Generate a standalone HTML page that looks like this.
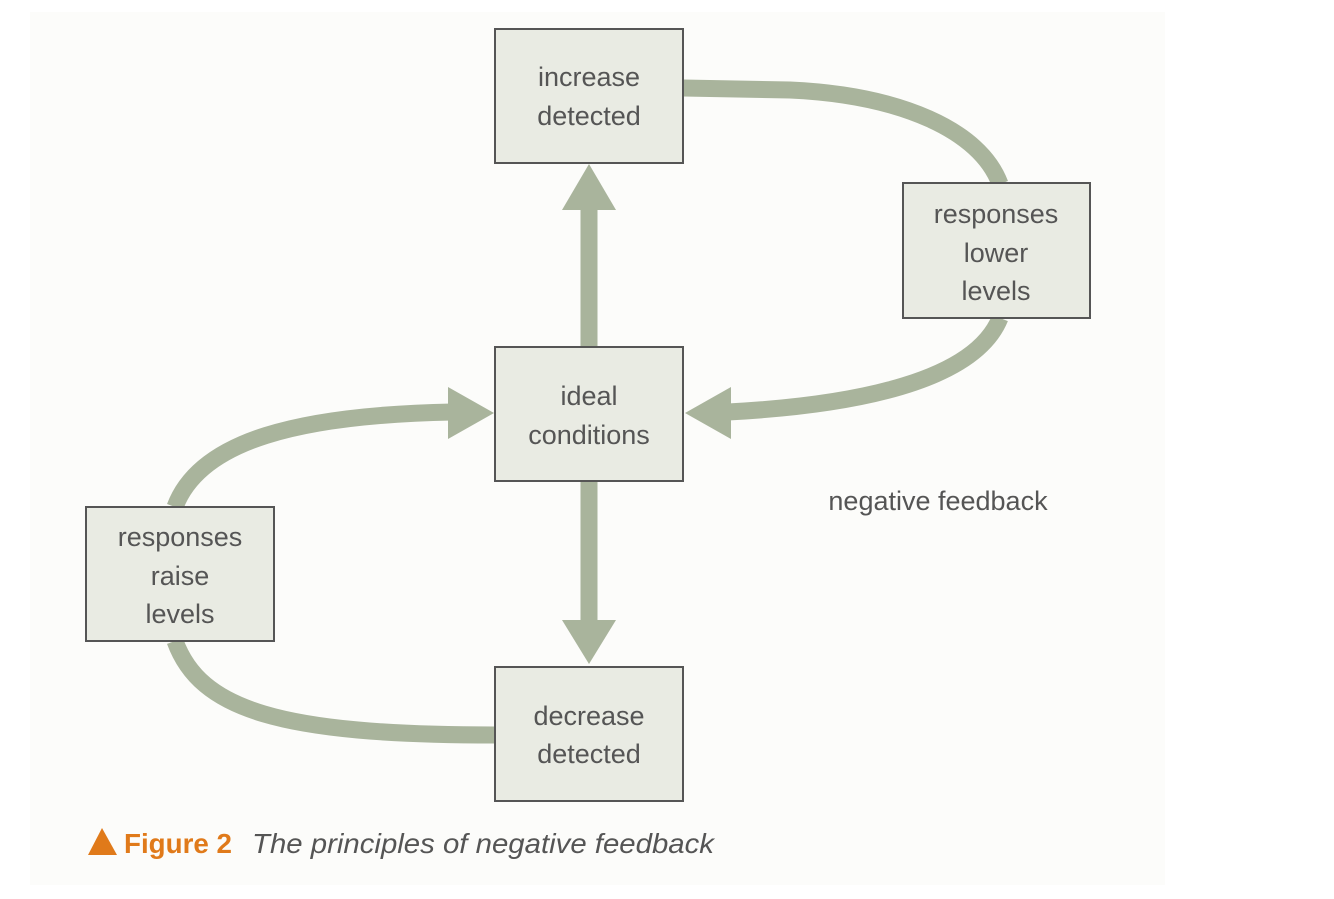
<!DOCTYPE html>
<html><head><meta charset="utf-8"><style>
body{margin:0;width:1334px;height:899px;background:#fff;overflow:hidden;font-family:"Liberation Sans",sans-serif}
</style></head><body>
<svg width="1334" height="899" xmlns="http://www.w3.org/2000/svg" style="position:absolute;left:0;top:0">
<rect x="30" y="12" width="1135" height="873" fill="#fcfcfa"/>
<g fill="none" stroke="#a9b49c" stroke-width="17">
<path d="M683 88 L790 90 C900 95 980 130 1000 184"/>
<path d="M1000 318 C975 380 860 405 728 412"/>
<path d="M175 507 C200 440 300 415 452 412"/>
<path d="M175 641 C200 710 280 735 495 735"/>
<path d="M589 347 L589 205"/>
<path d="M589 481 L589 625"/>
</g>
<g fill="#a9b49c">
<polygon points="589,164 562,210 616,210"/>
<polygon points="589,664 562,620 616,620"/>
<polygon points="685,413 731,387 731,439"/>
<polygon points="494,413 448,387 448,439"/>
</g>
<g fill="#e9ebe3" stroke="#555" stroke-width="2">
<rect x="495" y="29" width="188" height="134"/>
<rect x="903" y="183" width="187" height="135"/>
<rect x="495" y="347" width="188" height="134"/>
<rect x="86" y="507" width="188" height="134"/>
<rect x="495" y="667" width="188" height="134"/>
</g>
<g fill="#555" font-size="27" text-anchor="middle" font-family="Liberation Sans, sans-serif">
<text x="589" y="86">increase</text><text x="589" y="125">detected</text>
<text x="996" y="223">responses</text><text x="996" y="262">lower</text><text x="996" y="300">levels</text>
<text x="589" y="405">ideal</text><text x="589" y="444">conditions</text>
<text x="180" y="546">responses</text><text x="180" y="585">raise</text><text x="180" y="623">levels</text>
<text x="589" y="725">decrease</text><text x="589" y="763">detected</text>
<text x="938" y="510">negative feedback</text>
</g>
<polygon points="102,828 88,855 117,855" fill="#e07a1a"/>
<text x="124" y="853" font-size="28" font-weight="bold" fill="#e07a1a" textLength="108" lengthAdjust="spacingAndGlyphs">Figure 2</text>
<text x="252" y="853" font-size="28" font-style="italic" fill="#555" textLength="462" lengthAdjust="spacingAndGlyphs">The principles of negative feedback</text>
</svg>
</body></html>
